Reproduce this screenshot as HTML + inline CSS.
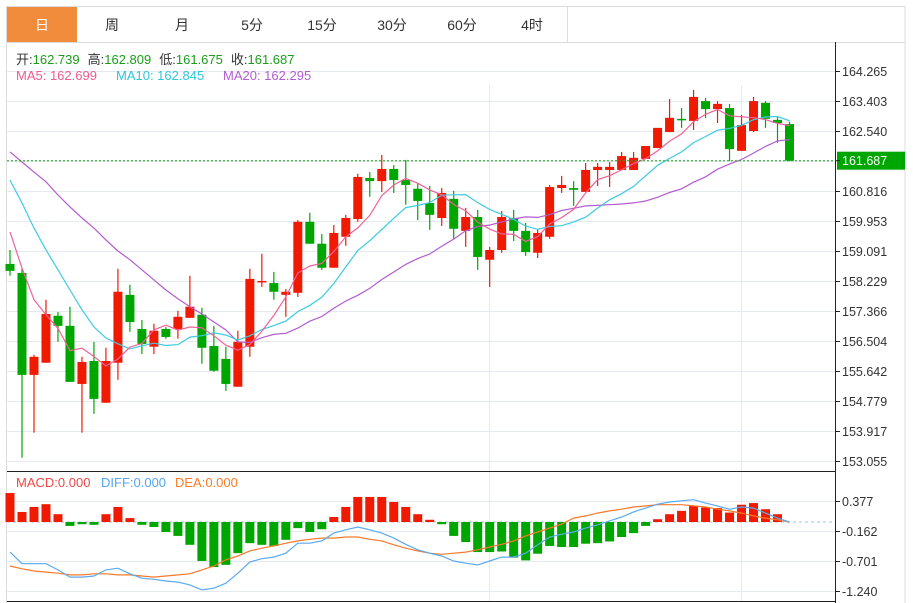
<!DOCTYPE html>
<html><head><meta charset="utf-8">
<style>
html,body{margin:0;padding:0;background:#fff;}
body{width:913px;height:603px;overflow:hidden;font-family:"Liberation Sans","Noto Sans CJK SC",sans-serif;}
svg{display:block;}
</style></head>
<body>
<svg id="chart" width="913" height="603" viewBox="0 0 913 603" xmlns="http://www.w3.org/2000/svg" font-family="Liberation Sans, Noto Sans CJK SC, sans-serif">
  <rect x="6.5" y="6.5" width="898.5" height="600" fill="#fff" stroke="#dcdcdc"/>
  <g id="tabs"></g>
  <line x1="6" y1="42.5" x2="905" y2="42.5" stroke="#dcdcdc"/>
  <g id="grid"></g>
  <g font-size="13">
    <text x="16" y="64" fill="#333">开:<tspan fill="#1a9e1a">162.739</tspan><tspan dx="8" fill="#333">高:</tspan><tspan fill="#1a9e1a">162.809</tspan><tspan dx="8" fill="#333">低:</tspan><tspan fill="#1a9e1a">161.675</tspan><tspan dx="8" fill="#333">收:</tspan><tspan fill="#1a9e1a">161.687</tspan></text>
  </g>
  <g font-size="13">
    <text x="16" y="80" fill="#ef5b8f">MA5: 162.699</text>
    <text x="116" y="80" fill="#2fc6da">MA10: 162.845</text>
    <text x="223" y="80" fill="#b35ccf">MA20: 162.295</text>
  </g>
  <g id="main"></g>
  <g id="macd"></g>
  <g id="axis"></g>
  <g font-size="13">
    <text x="16" y="487" fill="#f04848">MACD:0.000</text>
    <text x="101" y="487" fill="#55a6ef">DIFF:0.000</text>
    <text x="175" y="487" fill="#f47d2a">DEA:0.000</text>
  </g>
</svg>
<script>
const tabLabels = ["日","周","月","5分","15分","30分","60分","4时"];
const opens  = [158.72,158.46,155.53,155.88,157.23,156.94,155.27,155.93,154.73,155.88,157.83,156.85,156.34,156.85,156.85,157.17,157.26,156.36,155.99,155.19,156.34,158.20,158.17,157.83,157.89,159.93,159.30,158.61,159.50,160.01,161.19,161.10,161.45,161.13,160.88,160.47,160.04,160.59,159.67,160.07,158.84,159.12,160.04,159.67,159.04,159.50,160.90,160.90,160.79,161.42,161.42,161.42,161.42,161.74,162.05,162.51,162.89,162.83,163.40,163.17,163.20,161.97,162.54,163.35,162.86,162.739];
const highs  = [159.12,158.58,156.11,157.69,157.34,157.49,156.05,156.48,156.31,158.58,158.12,157.11,157.00,156.91,157.37,158.38,157.46,156.94,156.34,156.80,158.58,159.01,158.49,158.00,159.98,160.19,159.58,159.84,160.13,161.31,161.36,161.85,161.56,161.71,161.05,160.96,160.90,160.82,160.33,160.27,159.21,160.24,160.27,159.90,159.73,160.99,161.25,161.10,161.62,161.62,161.65,161.94,161.94,162.11,162.63,163.46,163.20,163.72,163.49,163.40,163.32,163.00,163.52,163.40,162.94,162.809];
const lows   = [158.38,153.15,153.87,155.88,156.48,155.33,153.87,154.41,154.73,155.39,156.77,156.13,156.13,156.57,156.57,157.17,155.85,155.62,155.07,155.19,156.05,158.06,157.69,157.20,157.77,159.30,158.55,158.61,159.24,159.93,160.65,160.79,160.76,160.42,159.98,159.70,159.81,159.44,159.21,158.55,158.06,159.04,159.38,158.95,158.89,159.44,160.76,160.39,160.79,160.96,160.93,161.42,161.42,161.74,162.05,162.51,162.63,162.57,162.91,162.77,161.68,161.97,162.51,162.63,162.20,161.675];
const closes = [158.52,155.53,156.05,157.28,156.94,155.33,155.90,154.84,155.93,157.92,157.05,156.42,156.80,156.62,157.20,157.49,156.31,155.65,155.27,156.48,158.29,158.23,157.92,157.92,159.93,159.30,158.61,159.61,160.04,161.22,161.10,161.45,161.13,160.99,160.53,160.13,160.76,159.73,160.07,158.92,159.12,160.07,159.67,159.06,159.61,160.93,160.99,160.85,161.42,161.51,161.51,161.82,161.77,162.11,162.63,162.92,162.86,163.52,163.17,163.32,162.02,162.71,163.40,162.89,162.77,161.687];
const ma5Head  = [159.64,158.60,157.69,157.26];
const ma10Head = [161.13,160.47,159.75,159.12,158.55,157.97,157.40,156.91,156.59];
const ma20Head = [161.94,161.65,161.36,161.08,160.70,160.36,160.04,159.75,159.41,159.09,158.84,158.55,158.26,157.97,157.72,157.49,157.28,157.05,156.82];
const priceTicks = ["164.265","163.403","162.540","161.678","160.816","159.953","159.091","158.229","157.366","156.504","155.642","154.779","153.917","153.055"];
const macdHist = [0.52,0.18,0.27,0.32,0.14,-0.07,-0.04,-0.05,0.14,0.27,0.07,-0.05,-0.09,-0.18,-0.25,-0.41,-0.70,-0.81,-0.77,-0.56,-0.38,-0.41,-0.43,-0.32,-0.11,-0.18,-0.13,0.09,0.27,0.45,0.45,0.45,0.36,0.27,0.14,0.04,-0.04,-0.25,-0.36,-0.54,-0.54,-0.53,-0.64,-0.69,-0.57,-0.43,-0.45,-0.45,-0.39,-0.38,-0.35,-0.27,-0.20,-0.07,0.05,0.14,0.20,0.29,0.26,0.25,0.17,0.31,0.34,0.23,0.14,0.0];
const diffVals = [-0.54,-0.75,-0.75,-0.75,-0.86,-0.99,-0.99,-0.97,-0.86,-0.83,-0.93,-1.01,-1.03,-1.06,-1.08,-1.13,-1.22,-1.19,-1.10,-0.92,-0.72,-0.66,-0.63,-0.56,-0.38,-0.38,-0.34,-0.20,-0.14,-0.09,-0.14,-0.20,-0.29,-0.40,-0.50,-0.56,-0.61,-0.70,-0.74,-0.77,-0.70,-0.63,-0.63,-0.56,-0.41,-0.27,-0.22,-0.18,-0.11,-0.05,0.02,0.09,0.18,0.25,0.32,0.36,0.38,0.40,0.34,0.29,0.23,0.27,0.25,0.16,0.07,0.0];
const deaVals  = [-0.79,-0.84,-0.88,-0.90,-0.92,-0.95,-0.95,-0.93,-0.93,-0.95,-0.95,-0.97,-0.99,-0.97,-0.95,-0.93,-0.86,-0.79,-0.68,-0.61,-0.52,-0.47,-0.43,-0.38,-0.34,-0.31,-0.29,-0.29,-0.27,-0.27,-0.31,-0.34,-0.41,-0.47,-0.52,-0.56,-0.58,-0.56,-0.54,-0.50,-0.45,-0.40,-0.34,-0.25,-0.18,-0.11,-0.04,0.07,0.11,0.16,0.20,0.23,0.27,0.29,0.31,0.31,0.31,0.29,0.27,0.23,0.20,0.16,0.11,0.07,0.04,0.0];
const macdTicks = [0.377,-0.162,-0.701,-1.240];
const lastPrice = 161.687;

const NS = "http://www.w3.org/2000/svg";
function mk(tag, attrs, parent){const e=document.createElementNS(NS,tag);for(const k in attrs)e.setAttribute(k,attrs[k]);parent.appendChild(e);return e;}
const P_TOP=71, P_MAX=164.265, P_PX=30/0.8623;
const yP = p => P_TOP + (P_MAX - p) * P_PX;
const M_ZERO=522, M_PX=30/0.539;
const yM = v => M_ZERO - v * M_PX;
const n = closes.length;
const X0=10, X1=789.5;
const xI = i => X0 + i * (X1 - X0) / (n - 1);
const RIGHT=835;
const RED="#f01a00", GREEN="#00a600";

const tabs=document.getElementById('tabs');
tabLabels.forEach((t,i)=>{
  const x=7+i*70;
  const g=mk('g',{},tabs);
  
  
  mk('rect',{x:x,y:7,width:70,height:35,fill:i===0?"#f28c3d":"#fff"},g);
  if(i>0) mk('line',{x1:x+70.5,y1:7,x2:x+70.5,y2:42,stroke:"#dcdcdc"},g);
  const tx=mk('text',{x:x+35,y:30,'text-anchor':'middle','font-size':14,fill:i===0?"#fff":"#333"},g);
  tx.textContent=t;
});

const grid=document.getElementById('grid');
priceTicks.forEach(t=>{
  const y=Math.round(yP(parseFloat(t)))+0.5;
  const l=mk('line',{x1:7,y1:y,x2:RIGHT,y2:y,stroke:"#e4eaf0"},grid);
  
  
});
macdTicks.forEach(v=>{
  const y=Math.round(yM(v))+0.5;
  const l=mk('line',{x1:7,y1:y,x2:RIGHT,y2:y,stroke:"#e4eaf0"},grid);
  
  
});
[489.5,741.5].forEach(x=>{
  const l=mk('line',{x1:x,y1:85,x2:x,y2:601,stroke:"#e4eaf0"},grid);
  
  
});

const main=document.getElementById('main');
for(let i=0;i<n;i++){
  const up=closes[i]>=opens[i];
  const col=up?RED:GREEN;
  const x=xI(i);
  const g=mk('g',{},main);
  
  
  mk('line',{x1:x,y1:yP(highs[i]),x2:x,y2:yP(lows[i]),stroke:col,'stroke-width':1.2},g);
  const top=yP(Math.max(opens[i],closes[i])), bot=yP(Math.min(opens[i],closes[i]));
  mk('rect',{x:x-4.5,y:top,width:9,height:Math.max(1.5,bot-top),fill:col},g);
}
function ma(period, head){
  const out=[];
  for(let i=0;i<n;i++){
    if(i<period-1){out.push(head[i]);continue;}
    let s=0;for(let k=i-period+1;k<=i;k++)s+=closes[k];
    out.push(s/period);
  }
  return out;
}
function poly(vals, yf, color, name, parent, w){
  const pts=vals.map((v,i)=>xI(i).toFixed(1)+","+yf(v).toFixed(1)).join(" ");
  const p=mk('polyline',{points:pts,fill:"none",stroke:color,'stroke-width':w||1.2},parent);
  
  
}
poly(ma(20,ma20Head),yP,"#b35ccf","ma20-line",main);
poly(ma(10,ma10Head),yP,"#3ccbe0","ma10-line",main);
poly(ma(5,ma5Head),yP,"#f0609a","ma5-line",main);
const lp=mk('line',{x1:7,y1:yP(lastPrice),x2:RIGHT,y2:yP(lastPrice),stroke:"#1aa31a",'stroke-dasharray':"2,2"},main);



const macd=document.getElementById('macd');
const zl=mk('line',{x1:7,y1:M_ZERO,x2:RIGHT,y2:M_ZERO,stroke:"#b8dcef",'stroke-width':1.5,'stroke-dasharray':"3,3"},macd);


for(let i=0;i<n;i++){
  const v=macdHist[i]; if(v===0) continue;
  const y1=yM(v);
  const b=mk('rect',{x:xI(i)-4.5,y:Math.min(y1,M_ZERO),width:9,height:Math.max(1,Math.abs(y1-M_ZERO)),fill:v>0?RED:GREEN},macd);
  
  
}
poly(deaVals,yM,"#f7792a","dea-line",macd,1.2);
poly(diffVals,yM,"#5aaaf0","diff-line",macd,1.2);

const axis=document.getElementById('axis');
mk('line',{x1:RIGHT+0.5,y1:42,x2:RIGHT+0.5,y2:603,stroke:"#222"},axis);
mk('line',{x1:7,y1:471.5,x2:RIGHT,y2:471.5,stroke:"#222"},axis);
mk('line',{x1:7,y1:601.5,x2:RIGHT,y2:601.5,stroke:"#222"},axis);
priceTicks.forEach(t=>{
  if(t==="161.678") return;
  const y=Math.round(yP(parseFloat(t)))+0.5;
  mk('line',{x1:RIGHT,y1:y,x2:RIGHT+5,y2:y,stroke:"#222"},axis);
  const tx=mk('text',{x:842,y:y+4.5,'font-size':12.5,fill:"#333"},axis);
  
  
  tx.textContent=t;
});
macdTicks.forEach(v=>{
  const y=Math.round(yM(v))+0.5;
  mk('line',{x1:RIGHT,y1:y,x2:RIGHT+5,y2:y,stroke:"#222"},axis);
  const tx=mk('text',{x:842,y:y+4.5,'font-size':12.5,fill:"#333"},axis);
  
  
  tx.textContent=v.toFixed(3);
});
const ly=yP(lastPrice);
const lb=mk('rect',{x:837,y:ly-9,width:68,height:18,fill:"#00a600"},axis);


mk('line',{x1:RIGHT,y1:ly,x2:RIGHT+5,y2:ly,stroke:"#222"},axis);
const lt=mk('text',{x:842,y:ly+4.5,'font-size':12.5,fill:"#fff"},axis);


lt.textContent=lastPrice.toFixed(3);
</script>
</body></html>
